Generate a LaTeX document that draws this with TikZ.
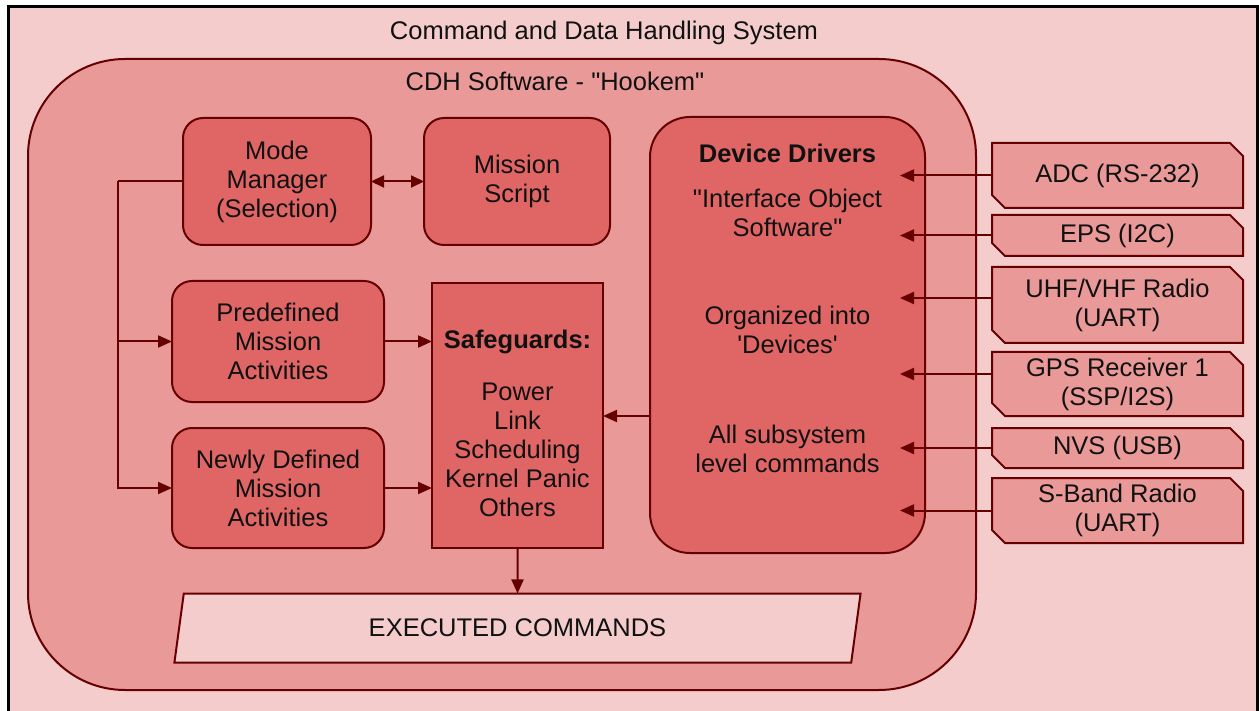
\documentclass[tikz,border=0pt]{standalone}
\usepackage{fontspec}
\setmainfont{Liberation Sans}
\usetikzlibrary{arrows.meta,shapes.geometric}
\definecolor{pale}{HTML}{F4CCCC}
\definecolor{mid}{HTML}{EA9999}
\definecolor{deep}{HTML}{E06666}
\definecolor{edge}{HTML}{660000}
\definecolor{txt}{HTML}{111111}
\pgfdeclarelayer{back}
\pgfdeclarelayer{bg}
\pgfsetlayers{back,bg,main}

\begin{document}
\begin{tikzpicture}[x=1pt,y=-1pt,
  every node/.style={font=\fontsize{25.5}{29}\selectfont, text=txt,
    inner sep=0pt, outer sep=0pt, align=center},
  edgeline/.style={draw=edge, line width=2pt},
  block/.style={edgeline, fill=deep, rounded corners=20pt},
  flatblock/.style={edgeline, fill=deep},
  arr/.style={draw=edge, line width=2pt, -{Triangle[length=14pt,width=12pt]}},
  dblarr/.style={draw=edge, line width=2pt,
    {Triangle[length=13pt,width=12pt]}-{Triangle[length=13pt,width=12pt]}},
  link/.style={draw=edge, line width=2pt},
  iface/.style={minimum width=251pt},
  ifaceshape/.style={edgeline, fill=mid},
  outbox/.style={edgeline, fill=pale, trapezium, trapezium left angle=77,
    trapezium right angle=103, trapezium stretches=true,
    minimum width=687pt, minimum height=69pt}
]
\useasboundingbox (0,0) rectangle (1259,711);

% enclosing system and software containers
\begin{pgfonlayer}{back}
  \draw[line width=3pt, fill=pale] (8,7) rectangle (1257,740);
  \draw[edgeline, fill=mid, rounded corners=97pt] (28,59) rectangle (976,690);
\end{pgfonlayer}
\node[anchor=base] (systitle) at (604,40) {Command and Data Handling System};
\node[anchor=base] (swtitle) at (555,91) {CDH Software - \textquotedbl Hookem\textquotedbl};

% software blocks
\node[block, minimum width=188pt, minimum height=127pt] (mm) at (277,181.5)
  {Mode\\Manager\\(Selection)};
\node[block, minimum width=186pt, minimum height=127pt] (ms) at (517,181.5)
  {Mission\\Script};
\node[block, minimum width=212pt, minimum height=121pt] (pd) at (278,341.5)
  {Predefined\\Mission\\Activities};
\node[block, minimum width=212pt, minimum height=120pt] (nd) at (278,488)
  {Newly Defined\\Mission\\Activities};
\node[flatblock, minimum width=171pt, minimum height=265pt] (sg) at (517.5,415.5) {};
\node (sgtitle) at (517.5,342) {\bfseries Safeguards:};
\node (sglist) at (517.5,450) {Power\\Link\\Scheduling\\Kernel Panic\\Others};
\node[block, rounded corners=40pt, minimum width=275pt, minimum height=436pt]
  (dd) at (787.5,335) {};
\node (ddtitle) at (787.5,153) {\bfseries Device Drivers};
\node (ddsub) at (787.5,213) {\textquotedbl Interface Object\\Software\textquotedbl};
\node (ddorg) at (787.5,330) {Organized into\\\textquotesingle Devices\textquotesingle};
\node (ddcmd) at (787.5,448.5) {All subsystem\\level commands};
\node[outbox] (exec) at (517.5,628) {EXECUTED COMMANDS};

% hardware interfaces
\node[iface, minimum height=65pt] (adc) at (1117.5,175.5) {ADC (RS-232)};
\node[iface, minimum height=41pt] (eps) at (1117.5,235.5) {EPS (I2C)};
\node[iface, minimum height=76pt] (uhf) at (1117.5,305) {UHF/VHF Radio\\(UART)};
\node[iface, minimum height=64pt] (gps) at (1117.5,384) {GPS Receiver 1\\(SSP/I2S)};
\node[iface, minimum height=40pt] (nvs) at (1117.5,448) {NVS (USB)};
\node[iface, minimum height=65pt] (sband) at (1117.5,510.5) {S-Band Radio\\(UART)};
\begin{pgfonlayer}{bg}
  \foreach \n in {adc,eps,uhf,gps,nvs,sband}
    \draw[ifaceshape] (\n.north west) -- ([xshift=-13pt]\n.north east)
      -- ([yshift=-13pt]\n.north east) -- (\n.south east)
      -- ([xshift=13pt]\n.south west) -- ([yshift=13pt]\n.south west) -- cycle;
\end{pgfonlayer}

% connectors
\draw[dblarr] (mm.east) -- (ms.west);
\draw[link] (mm.west) -- ++(-65,0) coordinate (bus);
\draw[arr] (bus) |- (nd.west);
\draw[arr] (bus |- pd.west) -- (pd.west);
\draw[arr] (pd.east) -- (pd.east -| sg.west);
\draw[arr] (nd.east) -- (nd.east -| sg.west);
\draw[arr] ([yshift=-81pt]dd.west) coordinate (ddout) -- (ddout -| sg.east);
\draw[arr] (sg.south) -- (exec.north);

\coordinate (ddin) at ([xshift=-25pt]dd.east);
\draw[arr] (adc.west) -- (adc.west -| ddin);
\draw[arr] (eps.west) -- (eps.west -| ddin);
\draw[arr] ([yshift=7pt]uhf.west) coordinate (uhfout) -- (uhfout -| ddin);
\draw[arr] ([yshift=10pt]gps.west) coordinate (gpsout) -- (gpsout -| ddin);
\draw[arr] (nvs.west) -- (nvs.west -| ddin);
\draw[arr] (sband.west) -- (sband.west -| ddin);
\end{tikzpicture}
\end{document}
